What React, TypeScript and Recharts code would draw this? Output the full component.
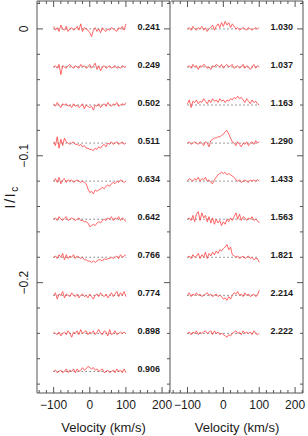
import { Label, Line, LineChart, ReferenceDot, ReferenceLine, XAxis, YAxis } from "recharts";

// velocity grid (km/s) shared by every spectrum
const VELOCITY = [
  -100, -95, -90, -85, -80, -75, -70, -65, -60, -55, -50, -45, -40, -35, -30, -25, -20, -15, -10, -5, 0,
  5, 10, 15, 20, 25, 30, 35, 40, 45, 50, 55, 60, 65, 70, 75, 80, 85, 90, 95, 100,
];

// vertical shift of each spectrum (I/Ic)
const OFFSETS = [0, -0.03, -0.06, -0.09, -0.12, -0.15, -0.18, -0.21, -0.24, -0.27];

const LEFT_PHASES = ["0.241", "0.249", "0.502", "0.511", "0.634", "0.642", "0.766", "0.774", "0.898", "0.906"];
const RIGHT_PHASES = ["1.030", "1.037", "1.163", "1.290", "1.433", "1.563", "1.821", "2.214", "2.222"];

// residuals in units of 0.001 Ic
const S0241 = [2, -1, 1, -2, 3, 0, -1, 2, -2, 0, 1, -1, 0, 2, -1, 4, -2, 1, 0, -1, -3, -6, -1, 1, -2, 0, -3, 1, -1, -2, 0, -1, 1, 0, -1, -2, 1, 0, 2, -1, 4];
const S0249 = [0, 1, -1, 2, -6, 1, 0, -1, 1, 2, 0, -1, 1, 0, -1, 2, 0, 1, -1, 0, 2, -1, 1, 3, -2, 1, -3, 0, 1, -1, 0, 1, -1, 0, 1, -1, 0, -1, 1, 0, 0];
const S0502 = [1, -1, 2, 0, -2, 1, 0, 1, -1, 0, -2, 1, -1, 0, -2, -1, 1, -3, 0, -1, -2, -1, -4, 0, -1, 1, -2, 0, 1, -1, 2, 0, -1, 1, 0, 2, -1, 0, 1, 0, 2];
const S0511 = [1, -2, 5, -4, 3, -2, 4, 1, 0, -1, 0, 1, -1, -1, -2, -1, -3, -2, -4, -4, -5, -5, -6, -4, -5, -3, -4, -2, -1, -3, 0, -1, 1, -1, 0, 1, -1, 0, 1, -1, 0];
const S0634 = [0, 2, -1, 3, -2, 1, 2, -1, 1, 0, 1, -1, 0, 1, 0, -1, 0, -1, -2, -6, -9, -8, -10, -7, -8, -7, -6, -5, -6, -4, -3, -4, -2, -1, -2, 0, -1, 1, 0, -1, 0];
const S0642 = [0, 1, -1, 2, 0, -1, 1, 2, -1, 0, 1, 0, -1, 0, 1, -1, -1, -2, -2, -3, -6, -5, -4, -5, -3, -2, -3, -1, 0, -1, 1, 0, 2, -1, 1, 0, 2, -1, 1, 0, -2];
const S0766 = [0, 1, -1, 2, 0, 3, -2, 2, -1, 1, 0, 2, -1, 1, 0, -1, 0, -2, -2, -3, -3, -4, -3, -4, -3, -2, -2, -3, -1, -2, -1, -1, 0, -1, 0, 1, -1, 2, 0, 1, 2];
const S0774 = [0, 2, -3, 1, 0, 3, -2, 1, 0, -1, 2, 0, -1, 1, -2, 0, 1, -1, 0, -2, 1, -1, -3, 0, 1, -1, 2, 0, -1, 1, -2, 0, 2, -1, 1, 3, -1, 2, 0, 3, -1];
const S0898 = [1, 0, -1, 1, -2, 0, 1, -1, 2, 0, -3, 1, 0, 2, -1, 3, 0, 1, 2, -1, 1, 0, 2, -1, 1, 3, 0, -1, 2, 1, -2, 3, -1, 0, 2, -1, 0, 1, 0, 1, 0];
const S0906 = [0, 1, -1, 0, 1, -1, 0, 2, -1, 1, 0, 2, -1, 2, 0, 1, 3, 1, 2, 4, 3, 2, 3, 1, 2, 0, 1, 2, -1, 0, 1, -1, 0, 1, -1, 2, 0, 1, -1, 2, -1];

const S1030 = [0, 1, -1, 2, 0, -1, 1, 0, 2, -1, 1, -2, 0, 1, 3, -1, 2, 4, 1, 5, 2, 6, 3, 5, 1, 4, 2, 0, 1, -1, 0, 1, 0, -1, 1, 0, -1, 0, 1, 0, 1];
const S1037 = [0, 1, -1, 2, 0, 1, -2, 1, 0, 2, 1, -1, 0, -2, 1, 0, 2, 1, 0, 2, -1, 1, 2, 0, 1, 2, -1, 0, 1, -1, 0, 2, -1, 1, 0, -2, 0, 2, -1, 1, 0];
const S1163 = [1, 4, -2, 3, 2, 4, 1, 3, 2, 5, 3, 1, 4, 2, 5, 3, 4, 2, 5, 3, 4, 2, 4, 3, 5, 4, 6, 5, 7, 5, 6, 4, 2, 5, 3, 1, 4, 2, 3, 1, 0];
const S1290 = [0, 1, -1, 0, 1, 0, -1, 1, 0, -2, 1, 0, -3, 2, 3, 4, 4, 5, 5, 6, 7, 9, 10, 7, 4, 1, 0, -2, 1, -1, -3, 0, -1, 1, -2, 0, 1, -1, 2, 0, 1];
const S1433 = [0, 2, 1, 0, 2, 1, 3, 0, 2, 1, 3, 0, 1, -1, -2, 1, 3, 5, 6, 7, 6, 7, 5, 6, 5, 4, 3, 1, 0, 1, -1, 0, 1, 0, -1, 1, 0, 1, 0, 1, 0];
const S1563 = [0, 1, -1, 3, -2, 4, 6, -1, 5, 1, 3, -2, 2, -3, 1, -4, 0, -3, -1, -5, -2, -4, 0, -2, 1, -1, 2, 5, 0, 4, -1, 2, 1, -1, 1, 0, 2, -1, 0, -1, -3];
const S1821 = [0, 1, -1, 2, 0, 1, 3, -1, 2, 0, 4, -1, 3, 1, 4, 2, 5, 3, 6, 5, 7, 8, 10, 6, 8, 2, 1, 0, 1, -1, 0, 1, -1, 0, 1, -1, 0, -2, -1, -1, -4];
const S2214 = [0, 2, -1, 1, 0, 2, 0, 1, -1, 0, 1, 2, 0, 1, -1, 0, 1, -1, 0, -1, -3, -2, -4, -1, -3, 0, 2, 1, 3, 0, 1, -1, 2, 0, 1, -1, 0, 1, -1, 0, 4];
const S2222 = [0, 1, -1, 1, 0, 2, -1, 1, 0, 1, 2, 0, 1, 2, -1, 2, 0, 1, -1, 0, -1, -2, -3, -1, -2, 0, 1, 2, 0, 1, -1, 2, 0, 1, 0, 1, -1, 2, 0, -1, 0];

const LEFT_SPECTRA = [S0241, S0249, S0502, S0511, S0634, S0642, S0766, S0774, S0898, S0906];
const RIGHT_SPECTRA = [S1030, S1037, S1163, S1290, S1433, S1563, S1821, S2214, S2222];

const X_TICKS = [-140, -120, -100, -80, -60, -40, -20, 0, 20, 40, 60, 80, 100, 120, 140, 160, 180, 200, 220];
const Y_TICKS = [0.02, 0, -0.02, -0.04, -0.06, -0.08, -0.1, -0.12, -0.14, -0.16, -0.18, -0.2, -0.22, -0.24, -0.26, -0.28];

const X_DOMAIN = [-146, 222];
const Y_DOMAIN = [-0.287, 0.022];
const LABEL_V = 163;

const FRAME = "#555";
const INK = "#1a1a1a";
const RED = "#ff4040";
const FONT = '"Liberation Sans", Arial, Helvetica, sans-serif';

const minus = (s: string) => s.replace("-", "\u2212");
const isMajorX = (v: number) => v % 100 === 0;
const isMajorY = (v: number) => Math.abs(v * 10 - Math.round(v * 10)) < 1e-6;

function buildRows(spectra: number[][]) {
  return VELOCITY.map((v, i) => {
    const row: Record<string, number> = { v };
    spectra.forEach((s, k) => {
      row[`s${k}`] = OFFSETS[k] + s[i] / 1000;
    });
    return row;
  });
}

function BottomTick({ x, y, payload }: any) {
  const major = isMajorX(payload.value);
  return (
    <g>
      <path d={`M${x},${y}V${y - (major ? 6 : 3)}`} stroke={FRAME} strokeWidth={1} fill="none" />
      {major && (
        <text x={x} y={y + 16} textAnchor="middle" fontSize={12} fill={INK} stroke="none" fontFamily={FONT}>
          {minus(String(payload.value))}
        </text>
      )}
    </g>
  );
}

function TopTick({ x, y, payload }: any) {
  const major = isMajorX(payload.value);
  return <path d={`M${x},${y}V${y + (major ? 6 : 3)}`} stroke={FRAME} strokeWidth={1} fill="none" />;
}

function LeftTick({ x, y, payload, showLabel }: any) {
  const major = isMajorY(payload.value);
  const v = payload.value;
  const txt = Math.abs(v) < 1e-9 ? "0" : minus(v.toFixed(1));
  return (
    <g>
      <path d={`M${x},${y}H${x + (major ? 6 : 3)}`} stroke={FRAME} strokeWidth={1} fill="none" />
      {showLabel && major && (
        <text
          x={x - 9}
          y={y}
          transform={`rotate(-90 ${x - 9} ${y})`}
          textAnchor="middle"
          fontSize={12}
          fill={INK}
          stroke="none"
          fontFamily={FONT}
        >
          {txt}
        </text>
      )}
    </g>
  );
}

function RightTick({ x, y, payload }: any) {
  const major = isMajorY(payload.value);
  return <path d={`M${x},${y}H${x - (major ? 6 : 3)}`} stroke={FRAME} strokeWidth={1} fill="none" />;
}

function XTitle(props: any) {
  const vb = props.viewBox;
  return (
    <text x={vb.x + vb.width / 2} y={vb.y + 39} textAnchor="middle" fontSize={13} fill={INK} fontFamily={FONT}>
      Velocity (km/s)
    </text>
  );
}

function YTitle(props: any) {
  const vb = props.viewBox || { x: 0, y: 0, width: 37, height: 393 };
  const cx = vb.x + 15;
  const cy = vb.y + vb.height / 2;
  return (
    <text
      x={cx}
      y={cy}
      transform={`rotate(-90 ${cx} ${cy})`}
      textAnchor="middle"
      fontSize={15}
      fill={INK}
      fontFamily={FONT}
      letterSpacing={1.5}
    >
      I/I
      <tspan fontSize={10} dy={3}>
        c
      </tspan>
    </text>
  );
}

function Panel({
  spectra,
  phases,
  width,
  margin,
  leftAxisWidth,
  showYLabels,
}: {
  spectra: number[][];
  phases: string[];
  width: number;
  margin: { top: number; right: number; bottom: number; left: number };
  leftAxisWidth: number;
  showYLabels: boolean;
}) {
  const rows = buildRows(spectra);
  return (
    <LineChart width={width} height={436} data={rows} margin={margin}>
      <XAxis
        xAxisId="b"
        dataKey="v"
        type="number"
        domain={X_DOMAIN}
        allowDataOverflow
        ticks={X_TICKS}
        interval={0}
        height={43}
        tickSize={0}
        tickMargin={0}
        tickLine={false}
        axisLine={{ stroke: FRAME, strokeWidth: 1 }}
        stroke={FRAME}
        tick={(p: any) => <BottomTick {...p} />}
      >
        <Label content={XTitle} />
      </XAxis>
      <XAxis
        xAxisId="t"
        dataKey="v"
        orientation="top"
        type="number"
        domain={X_DOMAIN}
        allowDataOverflow
        ticks={X_TICKS}
        interval={0}
        height={1}
        tickSize={0}
        tickMargin={0}
        tickLine={false}
        axisLine={{ stroke: FRAME, strokeWidth: 1 }}
        stroke={FRAME}
        tick={(p: any) => <TopTick {...p} />}
      />
      <YAxis
        yAxisId="l"
        type="number"
        domain={Y_DOMAIN}
        allowDataOverflow
        ticks={Y_TICKS}
        interval={0}
        width={leftAxisWidth}
        tickSize={0}
        tickMargin={0}
        tickLine={false}
        axisLine={{ stroke: FRAME, strokeWidth: 1 }}
        stroke={FRAME}
        tick={(p: any) => <LeftTick {...p} showLabel={showYLabels} />}
      >
        {showYLabels && <Label content={YTitle} />}
      </YAxis>
      <YAxis
        yAxisId="r"
        orientation="right"
        type="number"
        domain={Y_DOMAIN}
        allowDataOverflow
        ticks={Y_TICKS}
        interval={0}
        width={1}
        tickSize={0}
        tickMargin={0}
        tickLine={false}
        axisLine={{ stroke: FRAME, strokeWidth: 1 }}
        stroke={FRAME}
        tick={(p: any) => <RightTick {...p} />}
      />
      {spectra.map((_, k) => (
        <ReferenceLine
          key={`ref${k}`}
          xAxisId="b"
          yAxisId="l"
          segment={[
            { x: -100, y: OFFSETS[k] },
            { x: 100, y: OFFSETS[k] },
          ]}
          stroke="#000"
          strokeWidth={0.8}
          strokeDasharray="1 3"
        />
      ))}
      {spectra.map((_, k) => (
        <Line
          key={`s${k}`}
          xAxisId="b"
          yAxisId="l"
          dataKey={`s${k}`}
          stroke={RED}
          strokeWidth={0.8}
          dot={false}
          activeDot={false}
          isAnimationActive={false}
        />
      ))}
      {phases.map((ph, k) => (
        <ReferenceDot
          key={`lab${k}`}
          xAxisId="b"
          yAxisId="l"
          x={LABEL_V}
          y={OFFSETS[k]}
          r={0}
          shape={(p: any) => (
            <text
              x={p.cx}
              y={p.cy - 2}
              textAnchor="middle"
              dominantBaseline="central"
              fontSize={9}
              fontWeight="bold"
              fill={INK}
              fontFamily={FONT}
            >
              {ph}
            </text>
          )}
        />
      ))}
    </LineChart>
  );
}

export default function App() {
  return (
    <div style={{ position: "absolute", left: 0, top: 0, width: 308, height: 436, background: "#fff" }}>
      <div style={{ position: "absolute", left: 0, top: 0 }}>
        <Panel
          spectra={LEFT_SPECTRA}
          phases={LEFT_PHASES}
          width={176}
          margin={{ top: 0, right: 5, bottom: 0, left: 0 }}
          leftAxisWidth={37}
          showYLabels
        />
      </div>
      <div style={{ position: "absolute", left: 165, top: 0 }}>
        <Panel
          spectra={RIGHT_SPECTRA}
          phases={RIGHT_PHASES}
          width={143}
          margin={{ top: 0, right: 4, bottom: 0, left: 6 }}
          leftAxisWidth={0}
          showYLabels={false}
        />
      </div>
    </div>
  );
}
